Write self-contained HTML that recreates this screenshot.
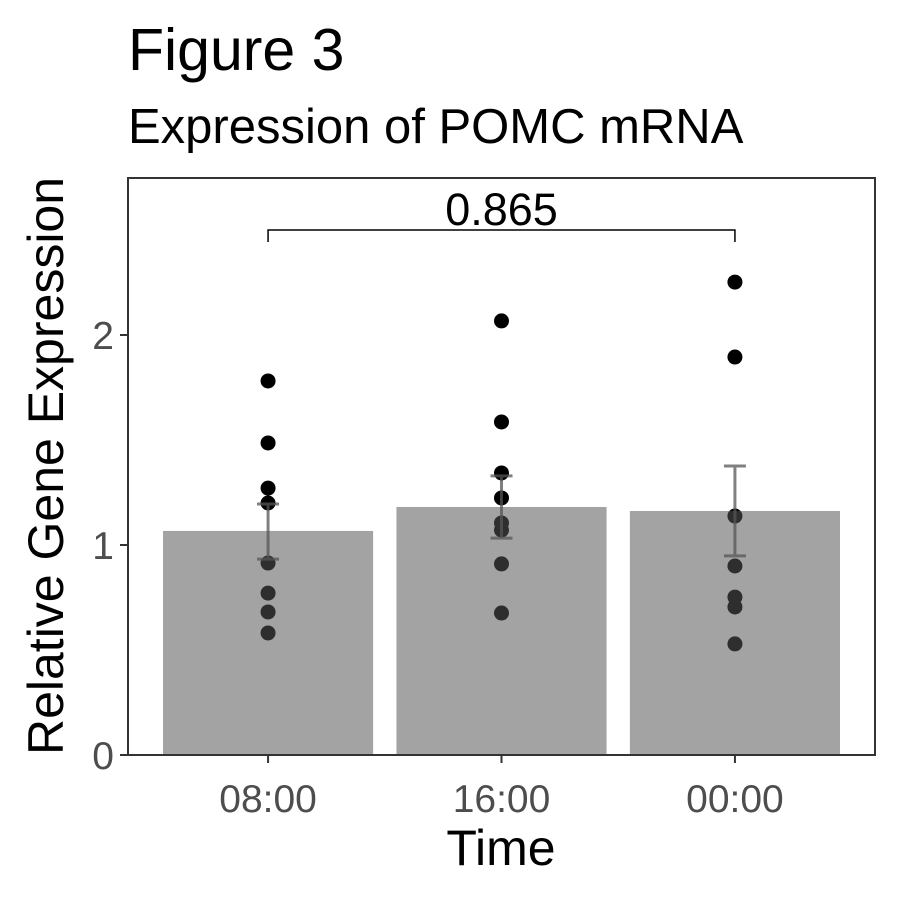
<!DOCTYPE html>
<html><head><meta charset="utf-8"><style>
body{margin:0;background:#fff}
svg text{font-family:"Liberation Sans",Arial,sans-serif}
</style></head><body>
<svg id="chart" width="900" height="900" viewBox="0 0 900 900">
<text x="128" y="70" font-size="59">Figure 3</text>
<text x="128" y="143" font-size="49">Expression of POMC mRNA</text>
<text transform="translate(63,466) rotate(-90)" text-anchor="middle" font-size="50">Relative Gene Expression</text>
<text x="501" y="865" text-anchor="middle" font-size="50">Time</text>
<g id="plot"></g>
</svg>
<script>
const categories = ["08:00", "16:00", "00:00"];
const means = [1.067, 1.181, 1.162];
const errLow = [0.933, 1.033, 0.948];
const errHigh = [1.195, 1.329, 1.376];
const points0800 = [1.781, 1.486, 1.271, 1.2, 0.914, 0.771, 0.681, 0.581];
const points1600 = [2.067, 1.586, 1.343, 1.224, 1.105, 1.071, 0.91, 0.676];
const points0000 = [2.252, 1.895, 1.138, 0.9, 0.752, 0.705, 0.529];
const yTicks = [0, 1, 2];
const pValue = "0.865";

const NS = "http://www.w3.org/2000/svg";
const g = document.getElementById("plot");
const L = 128, R = 875, T = 178, B = 755;
const yMax = (B - T) / 210;
function y(v){ return B - (v / yMax) * (B - T); }
const step = (R - L) / (categories.length + 0.2);
function x(i){ return L + step * (0.6 + i); }
const barW = step * 0.9;
function mk(tag, attrs){ const e = document.createElementNS(NS, tag); for (const k in attrs) e.setAttribute(k, attrs[k]); g.appendChild(e); return e; }

const allPts = [points0800, points1600, points0000];
allPts.forEach((arr, i) => {
  arr.forEach(v => {
    const c = mk("circle", {cx: x(i), cy: y(v), r: 7.5, fill: "#000"});
    
    
  });
});
categories.forEach((c, i) => {
  const b = mk("rect", {x: x(i) - barW/2, y: y(means[i]), width: barW, height: B - y(means[i]), fill: "#555", "fill-opacity": 0.54});
  
  
  const eb = mk("path", {d: `M${x(i)-11},${y(errHigh[i])}H${x(i)+11}M${x(i)},${y(errHigh[i])}V${y(errLow[i])}M${x(i)-11},${y(errLow[i])}H${x(i)+11}`, stroke: "#555", "stroke-opacity": 0.75, "stroke-width": 3, fill: "none"});
  
  
  const t = mk("line", {x1: x(i), x2: x(i), y1: B, y2: B + 8, stroke: "#333", "stroke-width": 2});
  
  
  const lb = mk("text", {x: x(i), y: B + 57, "text-anchor": "middle", "font-size": 39, fill: "#4d4d4d"});
  lb.textContent = c;
  
  
});
yTicks.forEach(v => {
  const t = mk("line", {x1: L - 8, x2: L, y1: y(v), y2: y(v), stroke: "#333", "stroke-width": 2});
  
  
  const lb = mk("text", {x: L - 14, y: y(v) + 14, "text-anchor": "end", "font-size": 39, fill: "#4d4d4d"});
  lb.textContent = v;
  
  
});
const fr = mk("rect", {x: L, y: T, width: R - L, height: B - T, fill: "none", stroke: "#333", "stroke-width": 2});


const br = mk("path", {d: `M${x(0)},242V230H${x(2)}V242`, stroke: "#000", "stroke-width": 1.5, fill: "none"});


const pv = mk("text", {x: (x(0) + x(2)) / 2, y: 225, "text-anchor": "middle", "font-size": 45});
pv.textContent = pValue;


</script>
</body></html>
